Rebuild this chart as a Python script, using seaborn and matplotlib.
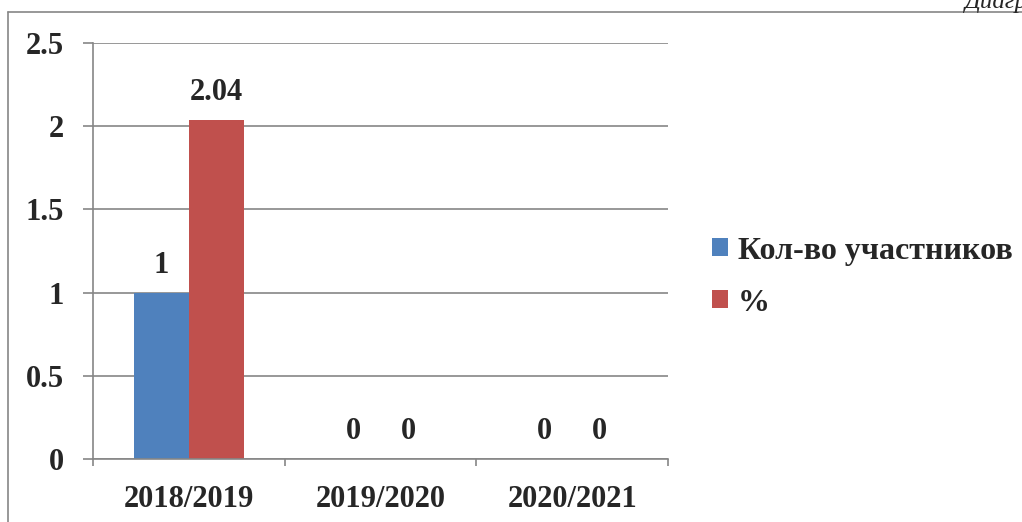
import pandas as pd
import matplotlib.pyplot as plt
import seaborn as sns
from matplotlib.lines import Line2D

# Данные диаграммы
years = ["2018/2019", "2019/2020", "2020/2021"]
participants = [1, 0, 0]
percent = [2.04, 0, 0]
series_names = ["Кол-во участников", "%"]

df = pd.DataFrame({
    "year": years * 2,
    "value": participants + percent,
    "series": [series_names[0]] * 3 + [series_names[1]] * 3,
})

sns.set_style("white")
plt.rcParams["font.family"] = ["Liberation Serif", "DejaVu Serif"]
plt.rcParams["font.weight"] = "bold"

fig = plt.figure(figsize=(10.22, 5.22), dpi=100)
ax = fig.add_axes([0.091, 0.1207, 0.5626, 0.7969])

sns.barplot(data=df, x="year", y="value", hue="series", order=years,
            hue_order=series_names, palette=["#4F81BD", "#C0504D"],
            width=0.575, gap=0, saturation=1, linewidth=0, ax=ax, legend=True)

for cont in ax.containers:
    ax.bar_label(cont, labels=[f"{v:g}" for v in cont.datavalues], padding=9,
                 fontsize=22, fontweight="bold")

ax.set_ylim(0, 2.5)
ax.set_xlim(-0.5, 2.5)
ax.set_yticks([0, 0.5, 1, 1.5, 2, 2.5])
ax.set_yticklabels(["0", "0.5", "1", "1.5", "2", "2.5"])
ax.grid(axis="y", color="#868686", linewidth=1.2)
ax.set_axisbelow(True)
ax.set_xlabel("")
ax.set_ylabel("")

for s in ["top", "right"]:
    ax.spines[s].set_visible(False)
for s in ["left", "bottom"]:
    ax.spines[s].set_color("#868686")
    ax.spines[s].set_linewidth(1.2)

ax.tick_params(axis="y", which="major", length=7, width=1.2, color="#868686",
               labelsize=22, pad=14, left=True)
ax.tick_params(axis="x", which="major", length=0, labelsize=22, pad=18.5)
ax.set_xticks([-0.5, 0.5, 1.5, 2.5], minor=True)
ax.tick_params(axis="x", which="minor", length=5, width=1.2, color="#868686",
               bottom=True)
for lbl in ax.get_xticklabels() + ax.get_yticklabels():
    lbl.set_fontweight("bold")

handles, labels = ax.get_legend_handles_labels()
ax.legend(handles, labels, loc="center left", bbox_to_anchor=(0.669, 0.469),
          bbox_transform=fig.transFigure, frameon=False,
          handlelength=0.5, handleheight=0.5, handletextpad=0.3,
          labelspacing=0.72, prop={"weight": "bold", "size": 23})

# Рамка и обрезанный заголовок
fig.add_artist(Line2D([0.008, 0.008], [0, 0.977], transform=fig.transFigure,
                      color="#868686", linewidth=1.2))
fig.add_artist(Line2D([0.008, 1.0], [0.977, 0.977], transform=fig.transFigure,
                      color="#868686", linewidth=1.2))
fig.text(0.944, 0.985, "Диаграмма", fontsize=18, style="italic",
         fontweight="normal", va="baseline", ha="left")

fig.savefig("out.png", dpi=100)
